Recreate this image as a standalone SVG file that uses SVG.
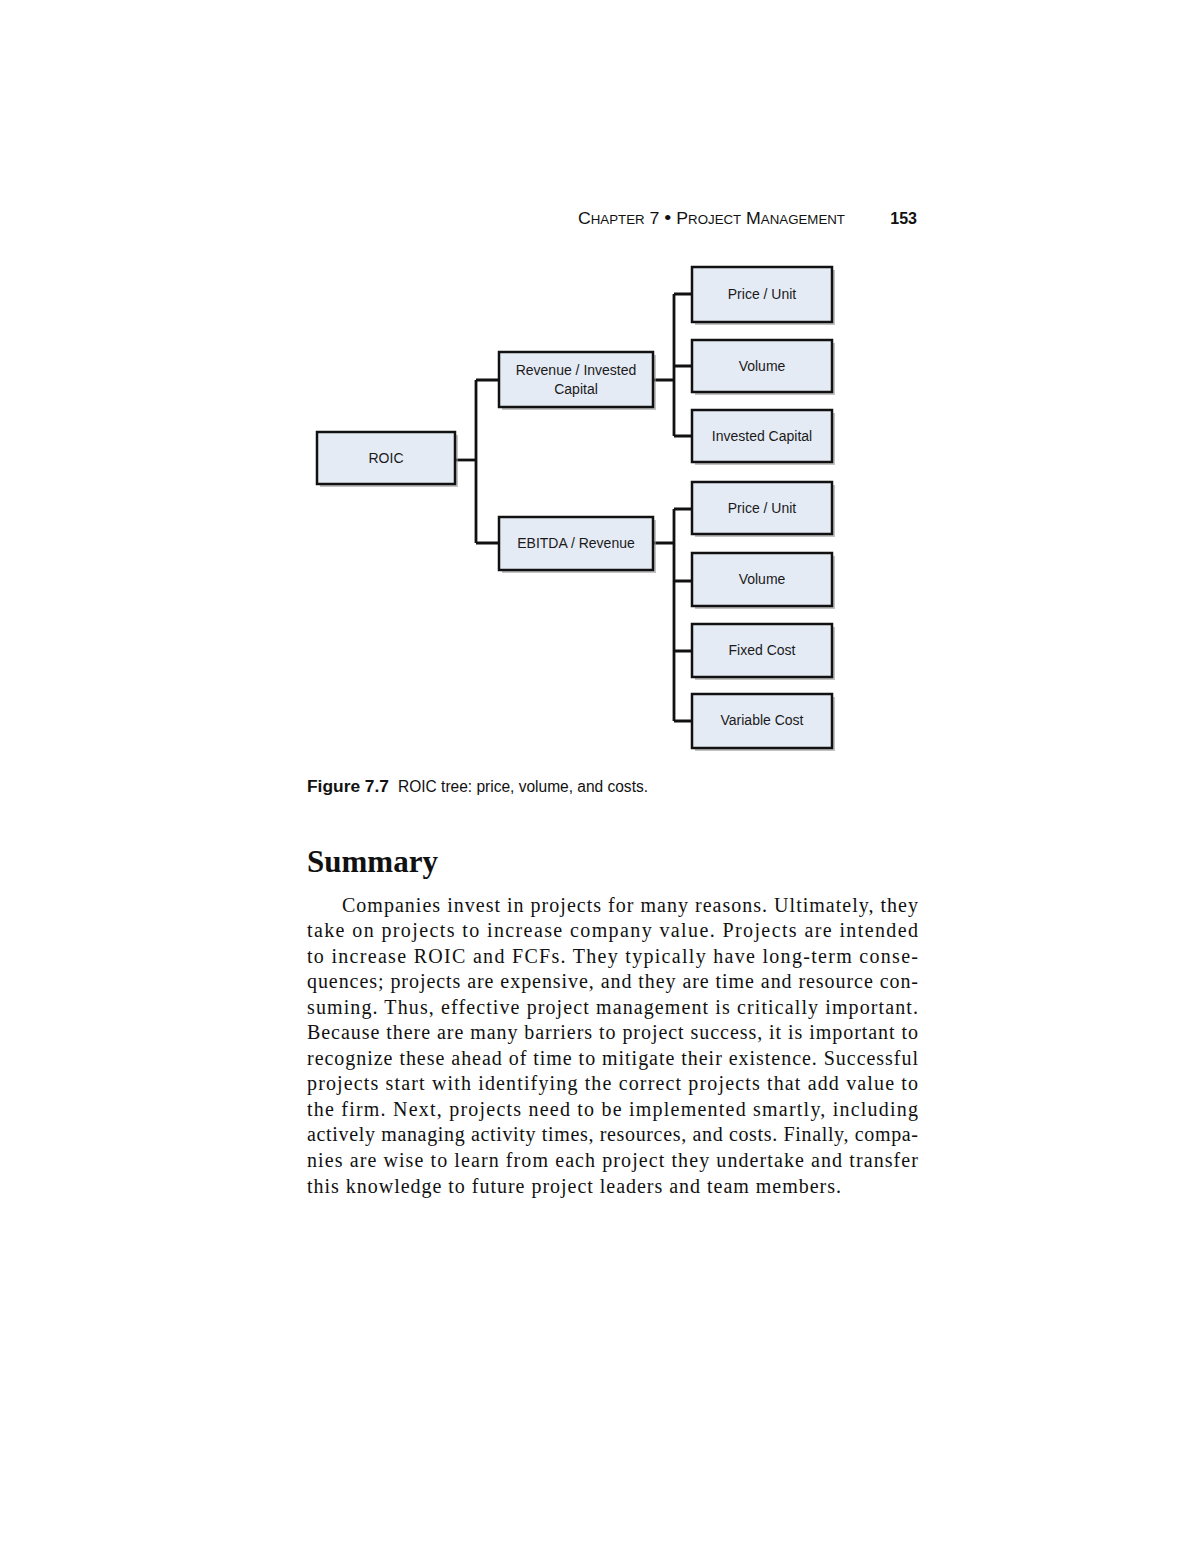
<svg xmlns="http://www.w3.org/2000/svg" width="1200" height="1553" viewBox="0 0 1200 1553">
<defs>
<style>
.box{fill:#e5ebf5;stroke:#111;stroke-width:2.5}
.shd{fill:#9a9a9a;opacity:0.6}
.lbl{font-family:"Liberation Sans",Arial,sans-serif;font-size:14px;fill:#1a1a1a;text-anchor:middle}
.con{fill:none;stroke:#111;stroke-width:2.8}
.hdr{font-family:"Liberation Sans",Arial,sans-serif;fill:#111}
.body{font-family:"Liberation Serif","Times New Roman",serif;font-size:20px;fill:#111}
</style>
</defs>
<rect width="1200" height="1553" fill="#fff"/>
<g id="header">
<text class="hdr" x="578" y="224" font-size="16" textLength="267" lengthAdjust="spacingAndGlyphs">C<tspan font-size="12">HAPTER</tspan> 7 <tspan font-size="18">•</tspan> P<tspan font-size="12">ROJECT</tspan> M<tspan font-size="12">ANAGEMENT</tspan></text>
<text class="hdr" x="917" y="224" font-size="16" font-weight="bold" text-anchor="end">153</text>
</g>
<g id="connectors">
<path class="con" d="M455,460 H476"/>
<path class="con" d="M476,380 V543" stroke-width="3.2"/>
<path class="con" d="M476,380 H499 M476,543 H499"/>
<path class="con" d="M653,380 H674 M674,294 V436 M674,294 H692 M674,366 H692 M674,436 H692"/>
<path class="con" d="M653,543 H674 M674,509 V721 M674,509 H692 M674,581 H692 M674,651 H692 M674,721 H692"/>
</g>
<g id="n-roic"><rect class="shd" x="320" y="435" width="138" height="52"/><rect class="box" x="317" y="432" width="138" height="52"/><text class="lbl" x="386" y="463">ROIC</text></g>
<g id="n-rev"><rect class="shd" x="502" y="355" width="154" height="55"/><rect class="box" x="499" y="352" width="154" height="55"/><text class="lbl" x="576" y="375">Revenue / Invested</text><text class="lbl" x="576" y="394">Capital</text></g>
<g id="n-ebitda"><rect class="shd" x="502" y="520" width="154" height="53"/><rect class="box" x="499" y="517" width="154" height="53"/><text class="lbl" x="576" y="548">EBITDA / Revenue</text></g>
<g id="n-price1"><rect class="shd" x="695" y="270" width="140" height="55"/><rect class="box" x="692" y="267" width="140" height="55"/><text class="lbl" x="762" y="299">Price / Unit</text></g>
<g id="n-vol1"><rect class="shd" x="695" y="343" width="140" height="52"/><rect class="box" x="692" y="340" width="140" height="52"/><text class="lbl" x="762" y="371">Volume</text></g>
<g id="n-ic"><rect class="shd" x="695" y="413" width="140" height="52"/><rect class="box" x="692" y="410" width="140" height="52"/><text class="lbl" x="762" y="441">Invested Capital</text></g>
<g id="n-price2"><rect class="shd" x="695" y="485" width="140" height="52"/><rect class="box" x="692" y="482" width="140" height="52"/><text class="lbl" x="762" y="513">Price / Unit</text></g>
<g id="n-vol2"><rect class="shd" x="695" y="556" width="140" height="53"/><rect class="box" x="692" y="553" width="140" height="53"/><text class="lbl" x="762" y="584">Volume</text></g>
<g id="n-fixed"><rect class="shd" x="695" y="627" width="140" height="53"/><rect class="box" x="692" y="624" width="140" height="53"/><text class="lbl" x="762" y="655">Fixed Cost</text></g>
<g id="n-var"><rect class="shd" x="695" y="697" width="140" height="54"/><rect class="box" x="692" y="694" width="140" height="54"/><text class="lbl" x="762" y="725">Variable Cost</text></g>
<g id="caption">
<text class="hdr" x="307" y="792" font-size="16" font-weight="bold" textLength="82" lengthAdjust="spacingAndGlyphs">Figure 7.7</text>
<text class="hdr" x="398" y="792" font-size="16" textLength="250" lengthAdjust="spacingAndGlyphs">ROIC tree: price, volume, and costs.</text>
</g>
<g id="summary">
<text x="307" y="872" font-family="Liberation Serif,'Times New Roman',serif" font-size="31" font-weight="bold" fill="#111">Summary</text>
<text class="body" x="342" y="912" textLength="576" lengthAdjust="spacing">Companies invest in projects for many reasons. Ultimately, they</text>
<text class="body" x="307" y="937" textLength="611" lengthAdjust="spacing">take on projects to increase company value. Projects are intended</text>
<text class="body" x="307" y="963" textLength="611" lengthAdjust="spacing">to increase ROIC and FCFs. They typically have long-term conse-</text>
<text class="body" x="307" y="988" textLength="611" lengthAdjust="spacing">quences; projects are expensive, and they are time and resource con-</text>
<text class="body" x="307" y="1014" textLength="611" lengthAdjust="spacing">suming. Thus, effective project management is critically important.</text>
<text class="body" x="307" y="1039" textLength="611" lengthAdjust="spacing">Because there are many barriers to project success, it is important to</text>
<text class="body" x="307" y="1065" textLength="611" lengthAdjust="spacing">recognize these ahead of time to mitigate their existence. Successful</text>
<text class="body" x="307" y="1090" textLength="611" lengthAdjust="spacing">projects start with identifying the correct projects that add value to</text>
<text class="body" x="307" y="1116" textLength="611" lengthAdjust="spacing">the firm. Next, projects need to be implemented smartly, including</text>
<text class="body" x="307" y="1141" textLength="611" lengthAdjust="spacing">actively managing activity times, resources, and costs. Finally, compa-</text>
<text class="body" x="307" y="1167" textLength="611" lengthAdjust="spacing">nies are wise to learn from each project they undertake and transfer</text>
<text class="body" x="307" y="1193" textLength="534" lengthAdjust="spacing">this knowledge to future project leaders and team members.</text>
</g>
</svg>
